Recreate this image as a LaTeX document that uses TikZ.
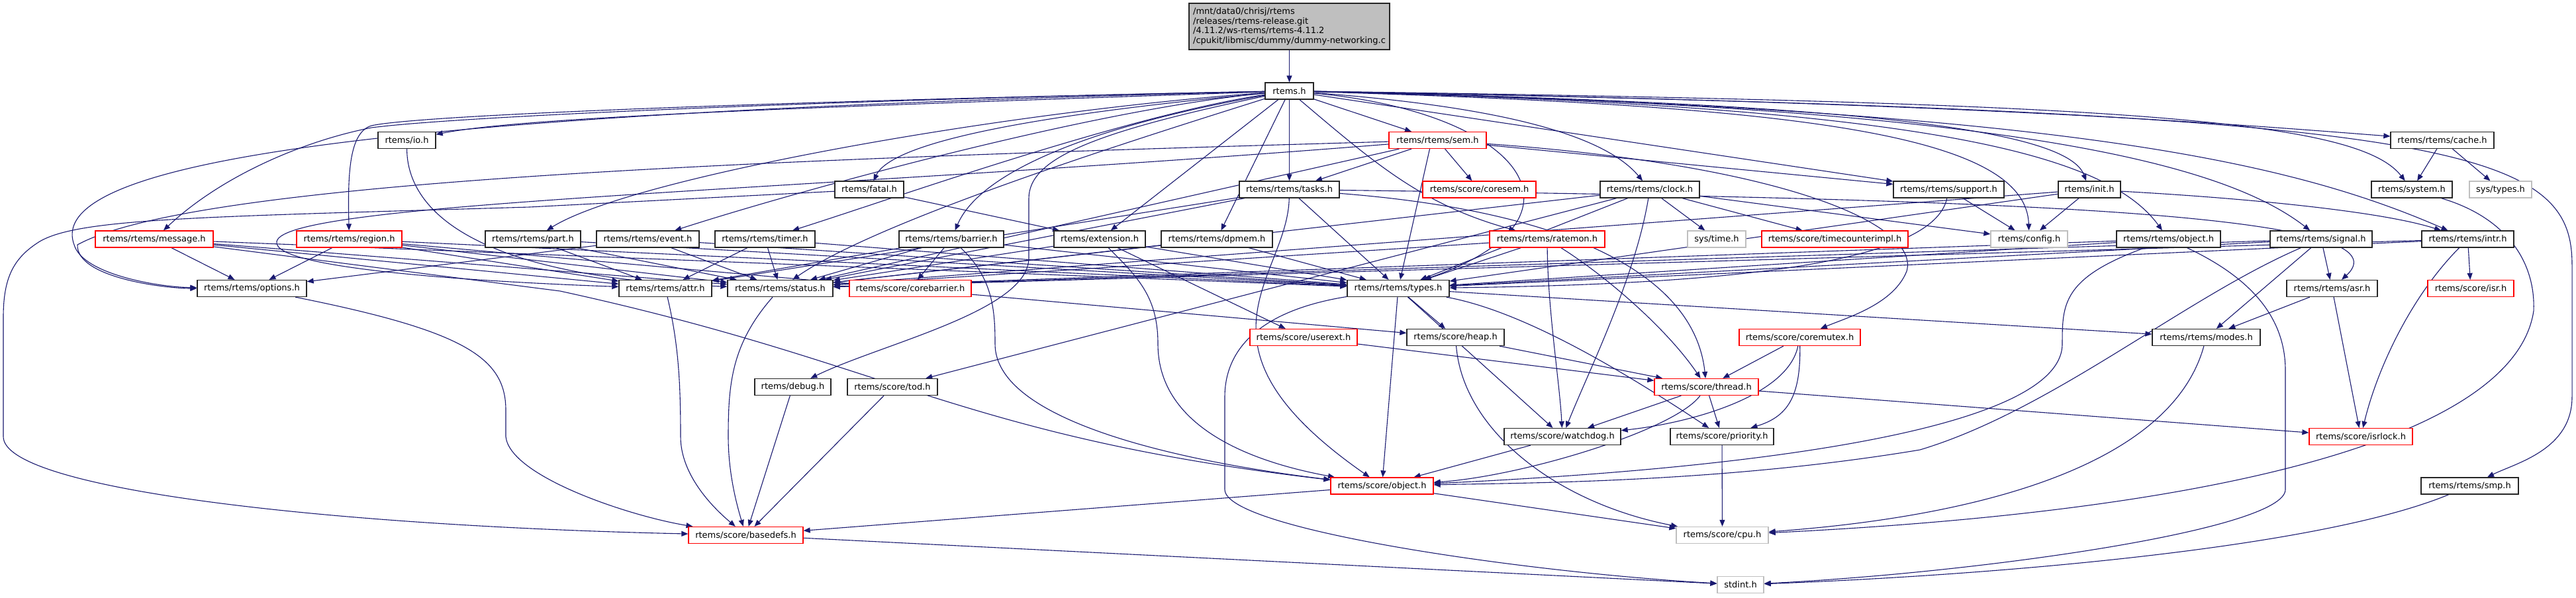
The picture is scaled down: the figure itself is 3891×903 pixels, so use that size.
\documentclass[tikz,border=0pt]{standalone}
\usepackage{fontspec}
\setmainfont{DejaVu Sans}
\usetikzlibrary{arrows.meta}
\definecolor{edgeblue}{HTML}{191970}
\definecolor{topgray}{HTML}{BFBFBF}
\definecolor{redb}{HTML}{FF0000}
\definecolor{grayb}{HTML}{BFBFBF}
\pgfdeclarelayer{bg}
\pgfsetlayers{bg,main}
\newcommand{\dfont}{\fontsize{13}{14.7}\selectfont}
\tikzset{
  nbox/.style={draw=black!85, fill=white, line width=1.3pt, minimum height=25pt, inner sep=0pt, font=\dfont},
  rbox/.style={nbox, draw=redb},
  gbox/.style={nbox, draw=grayb},
  edg/.style={draw=edgeblue, line width=1.1pt, -{Triangle[length=10pt,width=8pt]}},
}
\begin{document}
\begin{tikzpicture}[x=1pt,y=-1pt]
\useasboundingbox (0,0) rectangle (3891,903);
% row 0/1
\node[nbox, fill=topgray, minimum width=303pt, minimum height=70pt, align=left] (top) at (1947.5,40) {/mnt/data0/chrisj/rtems\\/releases/rtems-release.git\\/4.11.2/ws-rtems/rtems-4.11.2\\/cpukit/libmisc/dummy/dummy-networking.c};
\node[nbox, minimum width=73pt] (rtems) at (1947.5,137.5) {rtems.h};
% row 2
\node[nbox, minimum width=87pt] (io) at (614.5,212) {rtems/io.h};
\node[rbox, minimum width=147pt] (sem) at (2171.5,212) {rtems/rtems/sem.h};
\node[nbox, minimum width=156pt] (cache) at (3689,212) {rtems/rtems/cache.h};
% row 3
\node[nbox, minimum width=104pt] (fatal) at (1313,286.5) {rtems/fatal.h};
\node[nbox, minimum width=151pt] (tasks) at (1947.5,286.5) {rtems/rtems/tasks.h};
\node[rbox, minimum width=171pt] (coresem) at (2234.5,286.5) {rtems/score/coresem.h};
\node[nbox, minimum width=150pt] (clock) at (2492,286.5) {rtems/rtems/clock.h};
\node[nbox, minimum width=167pt] (support) at (2943.5,286.5) {rtems/rtems/support.h};
\node[nbox, minimum width=94pt] (init) at (3156,286.5) {rtems/init.h};
\node[nbox, minimum width=122pt] (system) at (3643,286.5) {rtems/system.h};
\node[gbox, minimum width=94pt] (systypes) at (3777,286.5) {sys/types.h};
% row 4
\node[rbox, minimum width=178pt] (message) at (233,361.5) {rtems/rtems/message.h};
\node[rbox, minimum width=159pt] (region) at (527.5,361.5) {rtems/rtems/region.h};
\node[nbox, minimum width=144pt] (part) at (805,361.5) {rtems/rtems/part.h};
\node[nbox, minimum width=155pt] (event) at (978.5,361.5) {rtems/rtems/event.h};
\node[nbox, minimum width=151pt] (timer) at (1155.5,361.5) {rtems/rtems/timer.h};
\node[nbox, minimum width=158pt] (barrier) at (1437,361.5) {rtems/rtems/barrier.h};
\node[nbox, minimum width=138pt] (extension) at (1661,361.5) {rtems/extension.h};
\node[nbox, minimum width=168pt] (dpmem) at (1838,361.5) {rtems/rtems/dpmem.h};
\node[rbox, minimum width=174pt] (ratemon) at (2337,361.5) {rtems/rtems/ratemon.h};
\node[gbox, minimum width=88pt] (systime) at (2593,361.5) {sys/time.h};
\node[rbox, minimum width=221pt] (timecounter) at (2771.5,361.5) {rtems/score/timecounterimpl.h};
\node[gbox, minimum width=116pt] (config) at (3065,361.5) {rtems/config.h};
\node[nbox, minimum width=157pt] (robject) at (3275.5,361.5) {rtems/rtems/object.h};
\node[nbox, minimum width=154pt] (signal) at (3506,361.5) {rtems/rtems/signal.h};
\node[nbox, minimum width=139pt] (intr) at (3727.5,361.5) {rtems/rtems/intr.h};
% row 5
\node[nbox, minimum width=165pt] (options) at (380.5,436) {rtems/rtems/options.h};
\node[nbox, minimum width=140pt] (attr) at (1005,436) {rtems/rtems/attr.h};
\node[nbox, minimum width=159pt] (status) at (1178.5,436) {rtems/rtems/status.h};
\node[rbox, minimum width=184pt] (corebarrier) at (1375,436) {rtems/score/corebarrier.h};
\node[nbox, minimum width=154pt] (types) at (2112,436) {rtems/rtems/types.h};
\node[nbox, minimum width=137pt] (asr) at (3522.5,436) {rtems/rtems/asr.h};
\node[rbox, minimum width=130pt] (isr) at (3732,436) {rtems/score/isr.h};
% row 6
\node[rbox, minimum width=162pt] (userext) at (1969,510) {rtems/score/userext.h};
\node[nbox, minimum width=147pt] (heap) at (2198.5,510) {rtems/score/heap.h};
\node[rbox, minimum width=183pt] (coremutex) at (2718.5,510) {rtems/score/coremutex.h};
\node[nbox, minimum width=163pt] (modes) at (3332.5,510) {rtems/rtems/modes.h};
% row 7
\node[nbox, minimum width=115pt] (debug) at (1197.5,585) {rtems/debug.h};
\node[nbox, minimum width=136pt] (tod) at (1348,585) {rtems/score/tod.h};
\node[rbox, minimum width=157pt] (thread) at (2577.5,585) {rtems/score/thread.h};
% row 8
\node[nbox, minimum width=176pt] (watchdog) at (2360,660) {rtems/score/watchdog.h};
\node[nbox, minimum width=156pt] (priority) at (2601,660) {rtems/score/priority.h};
\node[rbox, minimum width=156pt] (isrlock) at (3566,660) {rtems/score/isrlock.h};
% row 9
\node[rbox, minimum width=155pt] (sobject) at (2087.5,734.5) {rtems/score/object.h};
\node[nbox, minimum width=147pt] (smp) at (3730.5,734.5) {rtems/rtems/smp.h};
% row 10/11
\node[rbox, minimum width=173pt] (basedefs) at (1126.5,809) {rtems/score/basedefs.h};
\node[gbox, minimum width=139pt] (cpu) at (2601.5,809) {rtems/score/cpu.h};
\node[gbox, minimum width=70pt] (stdint) at (2629,884) {stdint.h};

\begin{pgfonlayer}{bg}
\fill[white] (0,0) rectangle (3891,903);
\draw[edg] (top) -- (rtems);
% rtems.h to the left
\draw[edg] (rtems) .. controls (1300,160) and (800,175) .. (io);
\draw[edg] (rtems) .. controls (1300,150) and (700,175) .. (561,193) .. controls (450,215) and (330,270) .. (message);
\draw[edg] (rtems) .. controls (1300,150) and (640,172) .. (561,190) .. controls (528,200) and (525,260) .. (region);
\draw[edg] (rtems) .. controls (700,168) and (60,230) .. (112,370) .. controls (125,415) and (240,434) .. (options);
\draw[edg] (rtems) .. controls (1500,170) and (950,270) .. (part);
\draw[edg] (rtems) .. controls (1650,165) and (1200,290) .. (event);
\draw[edg] (rtems) .. controls (1700,175) and (1350,300) .. (timer);
\draw[edg] (rtems) .. controls (1600,170) and (1350,210) .. (fatal);
\draw[edg] (rtems) .. controls (1650,190) and (1480,260) .. (barrier);
\draw[edg] (rtems) -- (extension);
\draw[edg] (rtems) -- (dpmem);
\draw[edg] (rtems) -- (tasks);
\draw[edg] (rtems) -- (sem);
\draw[edg] (rtems) .. controls (2080,250) and (2150,310) .. (ratemon);
\draw[edg] (rtems) .. controls (1750,200) and (1330,330) .. (status);
\draw[edg] (rtems) .. controls (1650,200) and (1554,240) .. (1554,300) -- (1554,390) .. controls (1554,470) and (1330,520) .. (debug);
% rtems.h to the right
\draw[edg] (rtems) .. controls (2300,170) and (2420,330) .. (types);
\draw[edg] (rtems) .. controls (2250,160) and (2420,200) .. (clock);
\draw[edg] (rtems) -- (support);
\draw[edg] (rtems) .. controls (2700,160) and (3060,200) .. (config);
\draw[edg] (rtems) .. controls (2750,155) and (3120,190) .. (init);
\draw[edg] (rtems) .. controls (2900,160) and (3180,230) .. (robject);
\draw[edg] (rtems) .. controls (3000,160) and (3350,240) .. (signal);
\draw[edg] (rtems) .. controls (3100,165) and (3450,240) .. (intr);
\draw[edg] (rtems) .. controls (3000,155) and (3400,190) .. (cache);
\draw[edg] (rtems) .. controls (3200,155) and (3560,180) .. (system);
\draw[edg] (rtems) .. controls (3700,170) and (3885,220) .. (3885,400) -- (3885,600) .. controls (3885,680) and (3800,700) .. (smp);
% io
\draw[edg] (io) .. controls (615,320) and (720,420) .. (status);
% sem
\draw[edg] (sem) .. controls (1200,240) and (300,270) .. (117,370) .. controls (115,420) and (250,436) .. (options);
\draw[edg] (sem) .. controls (1200,290) and (430,305) .. (418,365) .. controls (410,405) and (700,425) .. (attr);
\draw[edg] (sem) -- (status);
\draw[edg] (sem) -- (tasks);
\draw[edg] (sem) -- (coresem);
\draw[edg] ([xshift=-12pt]sem.south) -- (types);
\draw[edg] (sem) -- (support);
\draw[edg] (sem) .. controls (2700,250) and (2900,340) .. (2880,410) .. controls (2860,460) and (2790,480) .. (coremutex);
% cache
\draw[edg] (cache) -- (system);
\draw[edg] (cache) -- (systypes);
% fatal
\draw[edg] (fatal) -- (800,313) .. controls (300,328) and (120,330) .. (60,365) .. controls (20,390) and (5,420) .. (5,480) -- (5,660) .. controls (5,740) and (500,795) .. (basedefs);
\draw[edg] (fatal) -- (extension);
% tasks
\draw[edg] (tasks) -- (attr);
\draw[edg] (tasks) -- (status);
\draw[edg] (tasks) -- (types);
\draw[edg] (tasks) .. controls (1945,420) and (1780,520) .. (sobject);
\draw[edg] (tasks) .. controls (2380,320) and (2560,420) .. (thread);
\draw[edg] (tasks) .. controls (3000,300) and (3650,320) .. (asr);
% clock
\draw[edg] (clock) -- (status);
\draw[edg] (clock) -- (types);
\draw[edg] (clock) -- (systime);
\draw[edg] (clock) -- (timecounter);
\draw[edg] (clock) -- (config);
\draw[edg] (clock) -- (tod);
\draw[edg] (clock) .. controls (2470,420) and (2400,560) .. (watchdog);
% support
\draw[edg] (support) -- (config);
\draw[edg] (support) .. controls (2920,400) and (2600,430) .. (types);
% init
\draw[edg] (init) -- (config);
\draw[edg] (init) -- (types);
\draw[edg] (init) -- (status);
\draw[edg] (init) .. controls (3400,300) and (3600,320) .. (intr);
% row 4 left
\draw[edg] (message) -- (options);
\draw[edg] (message) -- (attr);
\draw[edg] (message) -- (status);
\draw[edg] (message) -- (types);
\draw[edg] (message) -- (846,440) .. controls (1350,550) and (1450,660) .. (sobject);
\draw[edg] (region) -- (options);
\draw[edg] (region) -- (attr);
\draw[edg] (region) -- (status);
\draw[edg] (region) -- (types);
\draw[edg] (region) -- (heap);
\draw[edg] (part) -- (attr);
\draw[edg] (part) -- (status);
\draw[edg] (part) -- (types);
\draw[edg] (event) -- (options);
\draw[edg] (event) -- (status);
\draw[edg] (event) -- (types);
\draw[edg] (timer) -- (attr);
\draw[edg] (timer) -- (status);
\draw[edg] (timer) -- (types);
\draw[edg] (barrier) -- (attr);
\draw[edg] (barrier) -- (status);
\draw[edg] (barrier) -- (types);
\draw[edg] (barrier) -- (corebarrier);
\draw[edg] (barrier) .. controls (1500,420) and (1503,470) .. (1503,520) .. controls (1503,640) and (1800,700) .. (sobject);
\draw[edg] (extension) -- (status);
\draw[edg] (extension) -- (types);
\draw[edg] (extension) -- (userext);
\draw[edg] (extension) .. controls (1720,420) and (1749,450) .. (1749,520) .. controls (1749,650) and (1900,700) .. (sobject);
\draw[edg] (dpmem) -- (status);
\draw[edg] (dpmem) -- (types);
\draw[edg] (ratemon) -- (status);
\draw[edg] (ratemon) -- (types);
\draw[edg] (ratemon) .. controls (2430,420) and (2520,500) .. (thread);
\draw[edg] (ratemon) .. controls (2338,470) and (2356,580) .. (watchdog);
% row 4 right
\draw[edg] (robject) -- (status);
\draw[edg] (robject) -- (types);
\draw[edg] (robject) .. controls (3115,420) and (3115,460) .. (3115,520) .. controls (3115,680) and (2400,720) .. (sobject);
\draw[edg] (robject) .. controls (3400,420) and (3452,480) .. (3452,560) -- (3452,740) .. controls (3452,800) and (3000,865) .. (stdint);
\draw[edg] (signal) -- (status);
\draw[edg] (signal) -- (types);
\draw[edg] (signal) -- (asr);
\draw[edg] (signal) -- (modes);
\draw[edg] (signal) .. controls (3300,450) and (3100,620) .. (2900,680) .. controls (2600,730) and (2300,730) .. (sobject);
\draw[edg] (intr) -- (status);
\draw[edg] (intr) -- (types);
\draw[edg] (intr) -- (isr);
\draw[edg] (intr) .. controls (3640,450) and (3590,560) .. (isrlock);
% row 5
\draw[edg] (types) -- (heap);
\draw[edg] (types) -- (watchdog);
\draw[edg] (types) -- (sobject);
\draw[edg] (types) -- (modes);
\draw[edg] (types) .. controls (2300,470) and (2450,560) .. (priority);
\draw[edg] (types) .. controls (1900,470) and (1850,530) .. (1850,600) -- (1850,740) .. controls (1850,800) and (2300,865) .. (stdint);
\draw[edg] (asr) -- (modes);
\draw[edg] (asr) -- (isrlock);
\draw[edg] (attr) .. controls (1025,520) and (1028,580) .. (1028,660) .. controls (1028,720) and (1080,770) .. (basedefs);
\draw[edg] (status) .. controls (1105,520) and (1100,580) .. (1100,660) .. controls (1100,720) and (1115,770) .. (basedefs);
\draw[edg] (options) .. controls (700,500) and (764,540) .. (764,620) -- (764,660) .. controls (770,720) and (950,780) .. (basedefs);
% lower rows
\draw[edg] (debug) -- (basedefs);
\draw[edg] (tod) -- (basedefs);
\draw[edg] (userext) -- (thread);
\draw[edg] (heap) -- (thread);
\draw[edg] (heap) .. controls (2210,650) and (2350,760) .. (cpu);
\draw[edg] (coremutex) -- (thread);
\draw[edg] (coremutex) .. controls (2720,600) and (2700,630) .. (priority);
\draw[edg] (coremutex) .. controls (2700,600) and (2550,640) .. (watchdog);
\draw[edg] (thread) -- (watchdog);
\draw[edg] (thread) -- (priority);
\draw[edg] (thread) -- (isrlock);
\draw[edg] (thread) .. controls (2530,650) and (2300,720) .. (sobject);
\draw[edg] (watchdog) -- (sobject);
\draw[edg] (priority) -- (cpu);
\draw[edg] (modes) .. controls (3280,700) and (3000,780) .. (cpu);
\draw[edg] (system) .. controls (3790,330) and (3830,400) .. (3827,470) .. controls (3800,650) and (3400,770) .. (cpu);
\draw[edg] (sobject) -- (basedefs);
\draw[edg] (sobject) -- (cpu);
\draw[edg] (basedefs) -- (stdint);
\draw[edg] (smp) .. controls (3500,830) and (3000,870) .. (stdint);
\end{pgfonlayer}
\end{tikzpicture}
\end{document}
